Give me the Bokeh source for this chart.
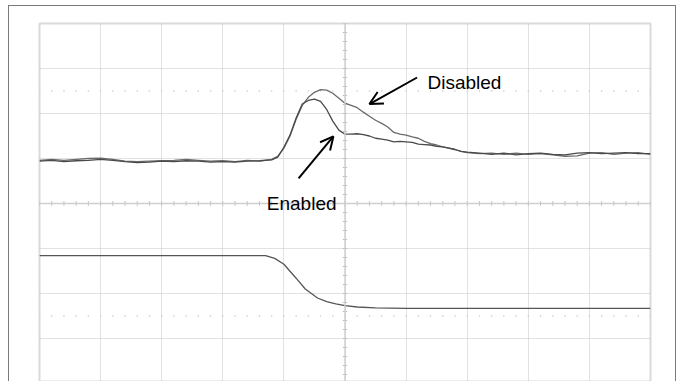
import numpy as np
from bokeh.plotting import figure
from bokeh.models import (FixedTicker, Span, Arrow, OpenHead, Label, Range1d)
from bokeh.embed import file_html
from bokeh.resources import INLINE

# ---- data (divisions on the scope graticule) ----
x_top = [-5.0, -4.8, -4.6, -4.4, -4.2, -4.0, -3.8, -3.6, -3.4, -3.2, -3.0, -2.8, -2.6,
         -2.4, -2.2, -2.0, -1.8, -1.6, -1.4, -1.2, -1.1, -1.0, -0.9, -0.8, -0.7, -0.6,
         -0.5, -0.4, -0.3, -0.2, -0.1, 0.0, 0.1, 0.2, 0.3, 0.4, 0.5, 0.6, 0.7, 0.8, 0.9,
         1.0, 1.1, 1.2, 1.3, 1.4, 1.5, 1.6, 1.7, 1.8, 1.9, 2.0, 2.2, 2.4, 2.6, 2.8, 3.0,
         3.2, 3.4, 3.6, 3.8, 4.0, 4.2, 4.4, 4.6, 4.8, 5.0]

enabled = [0.94, 0.96, 0.93, 0.95, 0.96, 0.98, 0.96, 0.93, 0.91, 0.92, 0.94, 0.93, 0.95,
           0.94, 0.92, 0.93, 0.92, 0.94, 0.95, 0.97, 1.03, 1.25, 1.52, 1.90, 2.21, 2.29,
           2.32, 2.27, 2.09, 1.83, 1.63, 1.54, 1.54, 1.55, 1.53, 1.50, 1.45, 1.43, 1.41,
           1.37, 1.38, 1.37, 1.36, 1.32, 1.31, 1.30, 1.27, 1.26, 1.23, 1.20, 1.16, 1.14,
           1.12, 1.09, 1.12, 1.08, 1.11, 1.12, 1.09, 1.08, 1.12, 1.13, 1.11, 1.12, 1.13,
           1.11, 1.11]

disabled = [0.96, 0.98, 0.96, 0.98, 1.00, 1.01, 0.98, 0.94, 0.93, 0.94, 0.95, 0.96, 0.98,
            0.96, 0.94, 0.95, 0.93, 0.96, 0.94, 0.98, 1.05, 1.23, 1.50, 1.87, 2.18, 2.36,
            2.47, 2.53, 2.52, 2.45, 2.34, 2.23, 2.18, 2.13, 2.03, 1.94, 1.85, 1.78, 1.70,
            1.58, 1.54, 1.52, 1.48, 1.45, 1.38, 1.33, 1.30, 1.26, 1.23, 1.20, 1.16, 1.13,
            1.11, 1.12, 1.09, 1.12, 1.09, 1.11, 1.08, 1.05, 1.06, 1.12, 1.13, 1.09, 1.12,
            1.13, 1.09]

x_bottom = [-5.0, -1.3, -1.15, -1.0, -0.8, -0.65, -0.45, -0.3, -0.15, 0.0, 0.2, 0.5, 1.0, 5.0]
bottom = [-1.16, -1.16, -1.22, -1.35, -1.66, -1.90, -2.10, -2.18, -2.23, -2.27, -2.30,
          -2.32, -2.33, -2.33]

x_divs = [-5, -4, -3, -2, -1, 0, 1, 2, 3, 4, 5]
y_divs = [-4, -3, -2, -1, 0, 1, 2, 3, 4]

# ---- figure ----
p = figure(width=668, height=376, output_backend="svg", toolbar_location=None,
           x_range=Range1d(-5, 5), y_range=Range1d(4 - 359 / 45, 4),
           min_border_left=30, min_border_right=27, min_border_top=17,
           min_border_bottom=0)
p.xaxis.visible = False
p.yaxis.visible = False
p.background_fill_color = "white"
p.border_fill_color = "white"
p.outline_line_color = "#dadada"
p.outline_line_width = 2
p.styles = {"margin-left": "8px", "margin-top": "5px",
            "border-left": "1px solid #7a7a7a", "border-top": "1px solid #7a7a7a",
            "border-right": "1px solid #7a7a7a"}

p.xgrid.ticker = FixedTicker(ticks=x_divs)
p.ygrid.ticker = FixedTicker(ticks=y_divs)
for g in (p.xgrid, p.ygrid):
    g.grid_line_color = "#c4c4c4"
    g.grid_line_dash = "1 1"
    g.grid_line_width = 1

# centre lines with small ticks
p.add_layout(Span(location=0, dimension="width", line_color="#cfcfcf", line_width=1.5))
p.add_layout(Span(location=0, dimension="height", line_color="#cfcfcf", line_width=1.5))
minor_x = np.round(np.arange(-5, 5.001, 0.2), 2)
minor_y = np.round(np.arange(-4, 4.001, 0.2), 2)
p.segment(x0=minor_x, y0=-0.05, x1=minor_x, y1=0.05, line_color="#bdbdbd", line_width=1)
p.segment(x0=-0.035, y0=minor_y, x1=0.035, y1=minor_y, line_color="#bdbdbd", line_width=1)
# dotted rows at +-2.5 div
for yy in (2.5, -2.5):
    p.scatter(minor_x, [yy] * len(minor_x), size=1.6, color="#c8c8c8", line_color=None)

# ---- traces ----
p.line(x_top, disabled, line_color="#6a6a6a", line_width=1.3)
p.line(x_top, enabled, line_color="#4a4a4a", line_width=1.3)
p.line(x_bottom, bottom, line_color="#555555", line_width=1.3)

# ---- annotations ----
p.add_layout(Label(x=1.35, y=2.69, text="Disabled", text_font="Liberation Sans",
                   text_font_size="19px", text_color="black", text_baseline="alphabetic"))
p.add_layout(Label(x=-1.28, y=0.0, text="Enabled", text_font="Liberation Sans",
                   text_font_size="19px", text_color="black", text_baseline="alphabetic"))
p.add_layout(Arrow(x_start=1.18, y_start=2.80, x_end=0.40, y_end=2.21, line_width=2,
                   line_color="black",
                   end=OpenHead(size=13, line_width=2, line_color="black")))
p.add_layout(Arrow(x_start=-0.76, y_start=0.56, x_end=-0.19, y_end=1.49, line_width=2,
                   line_color="black",
                   end=OpenHead(size=13, line_width=2, line_color="black")))

open("out.html", "w").write(file_html(p, INLINE))
